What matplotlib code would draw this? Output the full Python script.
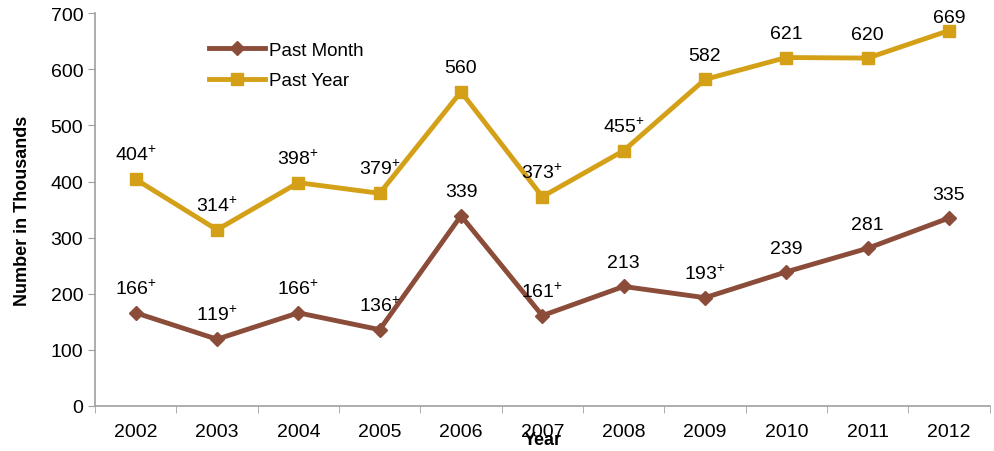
import numpy as np
import matplotlib
matplotlib.use("Agg")
import matplotlib.pyplot as plt

plt.rcParams['font.family'] = ['Liberation Sans', 'DejaVu Sans']
plt.rcParams['mathtext.fontset'] = 'custom'
plt.rcParams['mathtext.rm'] = 'Liberation Sans'

years = ['2002', '2003', '2004', '2005', '2006', '2007', '2008', '2009', '2010', '2011', '2012']
past_month = [166, 119, 166, 136, 339, 161, 213, 193, 239, 281, 335]
past_year = [404, 314, 398, 379, 560, 373, 455, 582, 621, 620, 669]
# "+" marks a significant difference vs 2012
month_plus = [True, True, True, True, False, True, False, True, False, False, False]
year_plus = [True, True, True, True, False, True, True, False, False, False, False]

brown = '#8B4C39'
gold = '#D4A017'

fig = plt.figure(figsize=(9.94, 4.52), dpi=100)
ax = fig.add_axes([0.0956, 0.0996, 0.9, 0.869])

x = np.arange(len(years))
ax.plot(x, past_month, color=brown, lw=3.5, marker='D', ms=7, label='Past Month')
ax.plot(x, past_year, color=gold, lw=3.5, marker='s', ms=9, label='Past Year')


def lab(v, plus):
    return f'{v}$^{{+}}$' if plus else str(v)


n = len(years)
for i in range(n):
    ax.annotate(lab(past_month[i], month_plus[i]), (x[i], past_month[i]), xytext=(0, 11),
                textcoords='offset points', ha='center', va='bottom', fontsize=14)
    off = 3 if i == n - 1 else 11
    ax.annotate(lab(past_year[i], year_plus[i]), (x[i], past_year[i]), xytext=(0, off),
                textcoords='offset points', ha='center', va='bottom', fontsize=14)

ax.set_xlim(-0.5, n - 0.5)
ax.set_ylim(0, 700)
ax.set_yticks(range(0, 701, 100))
ax.set_xticks(x)
ax.set_xticklabels(years)
ax.set_xticks(np.arange(-0.5, n, 1), minor=True)
ax.tick_params(axis='x', which='major', length=0, labelsize=14, pad=12)
ax.tick_params(axis='x', which='minor', length=5, color='#A0A0A0', direction='out')
ax.tick_params(axis='y', length=5, color='#A0A0A0', labelsize=14)

for s in ['top', 'right']:
    ax.spines[s].set_visible(False)
for s in ['left', 'bottom']:
    ax.spines[s].set_color('#A0A0A0')
    ax.spines[s].set_linewidth(1.2)

ax.set_ylabel('Number in Thousands', fontsize=13, fontweight='bold', labelpad=14)
ax.set_xlabel('Year', fontsize=13, fontweight='bold', labelpad=-6)

ax.legend(loc='upper left', bbox_to_anchor=(0.108, 0.97), frameon=False, fontsize=13.5,
          handlelength=3.0, labelspacing=0.7, handletextpad=0.2)

fig.savefig('out.png', dpi=100)
